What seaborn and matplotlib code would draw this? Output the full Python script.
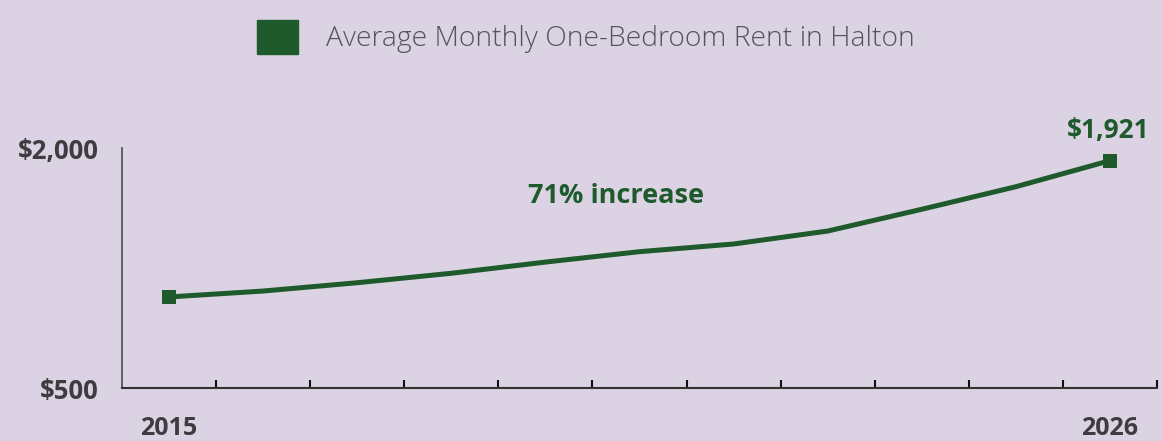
import matplotlib
matplotlib.use("Agg")
import matplotlib.pyplot as plt
import seaborn as sns
import pandas as pd
from matplotlib.patches import Patch

# Data
periods = ["2015", "", "", "", "", "", "", "", "", "", "2026"]
rent = [1069, 1106, 1158, 1217, 1287, 1352, 1400, 1481, 1617, 1758, 1921]
series_name = "Average Monthly One-Bedroom Rent in Halton"
y_ticks = [500, 2000]
y_tick_labels = ["$500", "$2,000"]
end_label = "$1,921"
note = "71% increase"

BG = "#dbd2e3"
GREEN = "#1e5a2b"
DARK = "#3d3d3f"

sns.set_theme(style="white")
plt.rcParams["font.family"] = ["Open Sans", "DejaVu Sans"]

df = pd.DataFrame({"idx": range(len(rent)), "rent": rent})

fig = plt.figure(figsize=(11.62, 4.41), dpi=100, facecolor=BG)
ax = fig.add_axes([122 / 1162, 53 / 441, 1035 / 1162, 240 / 441])
ax.set_facecolor(BG)

sns.lineplot(data=df, x="idx", y="rent", ax=ax, color=GREEN, linewidth=3.6,
             marker="s", markersize=9.5, markevery=[0, len(rent) - 1],
             markeredgewidth=0, legend=False)

ax.set_xlim(-0.5, len(rent) - 0.5)
ax.set_ylim(500, 2000)

ax.set_xticks([i + 0.5 for i in range(len(rent))])
ax.set_xticklabels([])
ax.tick_params(axis="x", which="major", direction="in", length=6, width=1.5, color="#111111", bottom=True)
ax.set_xticks([0, len(rent) - 1], minor=True)
ax.set_xticklabels([periods[0], periods[-1]], minor=True)
ax.tick_params(axis="x", which="minor", length=0, pad=20, labelsize=18, labelcolor=DARK)
for lab in ax.get_xticklabels(minor=True):
    lab.set_fontweight("bold")

ax.set_yticks(y_ticks)
ax.set_yticklabels(y_tick_labels, fontsize=18.5, fontweight="bold", color=DARK)
ax.tick_params(axis="y", length=0, pad=17)

for s in ["top", "right"]:
    ax.spines[s].set_visible(False)
ax.spines["left"].set_color("#555555")
ax.spines["left"].set_linewidth(1.3)
ax.spines["bottom"].set_color("#333333")
ax.spines["bottom"].set_linewidth(1.5)

ax.set_xlabel("")
ax.set_ylabel("")

ax.annotate(end_label, xy=(len(rent) - 1, rent[-1]), xytext=(-1, 12), textcoords="offset points",
            ha="center", va="bottom", fontsize=19, fontweight="bold", color=GREEN)
ax.text(4.745, 1700, note, ha="center", va="center", fontsize=19.5, fontweight="bold", color=GREEN)

fig.legend(handles=[Patch(facecolor=GREEN, edgecolor=GREEN)], labels=[series_name],
           loc="center", bbox_to_anchor=(586 / 1162, 1 - 37 / 441), frameon=False,
           handlelength=1.45, handleheight=1.45, handletextpad=1.0,
           prop={"size": 20.3, "weight": "light"}, labelcolor="#555558")

fig.savefig("out.png", dpi=100, facecolor=BG)
